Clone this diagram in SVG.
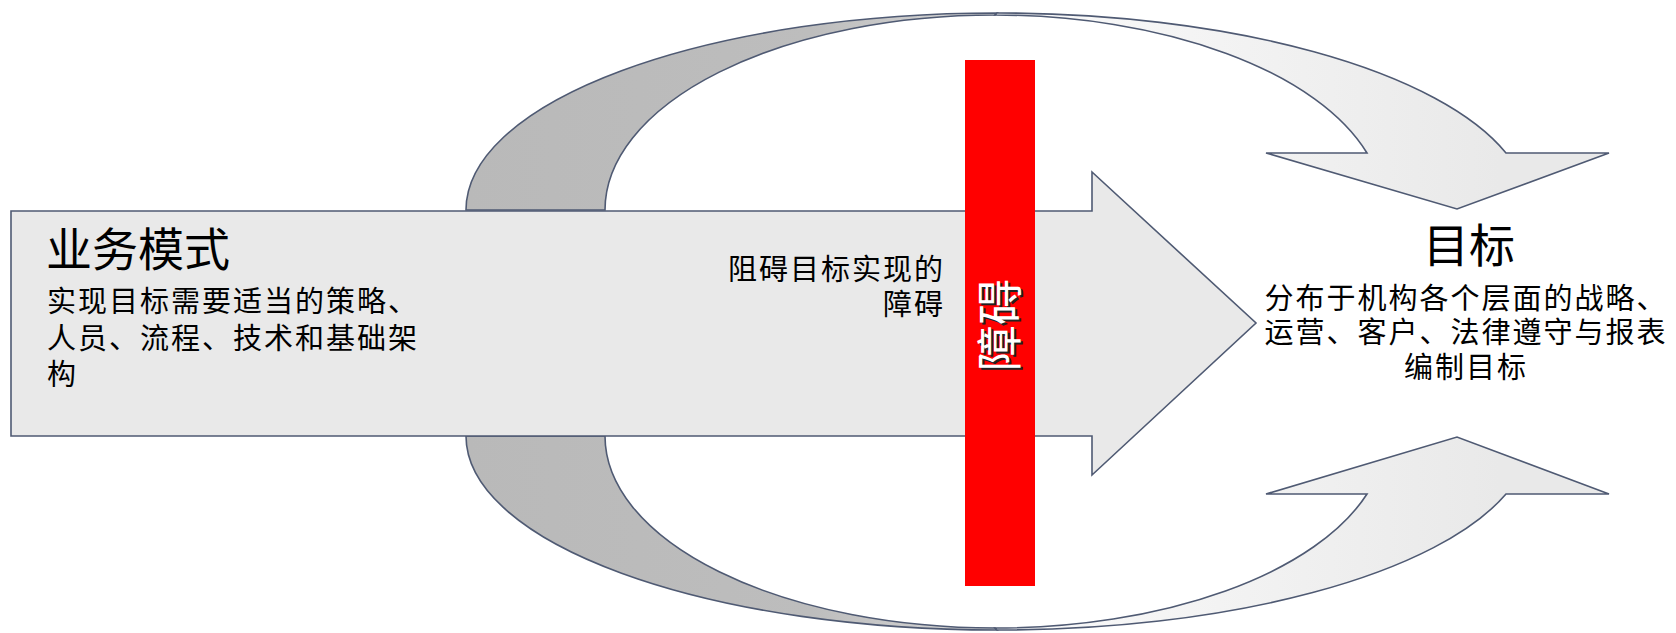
<svg xmlns="http://www.w3.org/2000/svg" width="1676" height="633" viewBox="0 0 1676 633">
<defs>
<linearGradient id="gDark" gradientUnits="userSpaceOnUse" x1="466" y1="0" x2="997" y2="0">
<stop offset="0" stop-color="#b9b9b9"/><stop offset="0.65" stop-color="#bdbdbd"/><stop offset="1" stop-color="#d8d8d8"/>
</linearGradient>
<linearGradient id="gLight" gradientUnits="userSpaceOnUse" x1="995" y1="0" x2="1500" y2="0">
<stop offset="0" stop-color="#fbfbfb"/><stop offset="1" stop-color="#e9e9e9"/>
</linearGradient>
<style>
.edge{stroke:#4f5a73;stroke-width:1.6;stroke-linejoin:miter}
.t{font-family:"Noto Sans CJK SC","Noto Sans",sans-serif;fill:#000}
.title{font-size:46px}
.body{font-size:29px;letter-spacing:2px}
.bar{font-size:46px}
</style>
</defs>
<g id="connectors">
<g id="top-arrow">
<path class="edge" fill="url(#gDark)" d="M466,210 A531,197 0 0 1 997,13 L995,15 A390,195 0 0 0 605,210 Z"/>
<path class="edge" fill="url(#gLight)" d="M997,13 A531,197 0 0 1 1506,153 L1609,153 L1457,209 L1266,153 L1367,153 A390,195 0 0 0 995,15 Z"/>
</g>
<g id="bottom-arrow">
<path class="edge" fill="url(#gDark)" d="M466,436 A531,194 0 0 0 997,630 L995,628 A390,192 0 0 1 605,436 Z"/>
<path class="edge" fill="url(#gLight)" d="M997,630 A531,194 0 0 0 1506,494 L1609,494 L1457,437 L1266,494 L1367,494 A390,192 0 0 1 995,628 Z"/>
</g>
</g>
<g id="business-model">
<path class="edge" fill="#e9e9e9" d="M11,211 H1092 V172 L1256,323 L1092,475 V436 H11 Z"/>
<text class="t title" x="46" y="266">业务模式</text>
<text class="t body"><tspan x="47" y="312">实现目标需要适当的策略、</tspan><tspan x="47" y="349">人员、流程、技术和基础架</tspan><tspan x="47" y="385">构</tspan></text>
<text class="t body" text-anchor="end"><tspan x="945" y="280">阻碍目标实现的</tspan><tspan x="945" y="315">障碍</tspan></text>
</g>
<g id="barrier">
<rect x="965" y="60" width="70" height="526" fill="#ff0000"/>
<text class="t bar" transform="translate(1002,327) rotate(-90)" x="0" y="16" text-anchor="middle" style="fill:#222">障碍</text>
<text class="t bar" transform="translate(1000,325) rotate(-90)" x="0" y="16" text-anchor="middle" style="fill:#fff">障碍</text>
</g>
<g id="goal">
<text class="t title" x="1469" y="262" text-anchor="middle">目标</text>
<text class="t body" text-anchor="middle"><tspan x="1466" y="309">分布于机构各个层面的战略、</tspan><tspan x="1466" y="343">运营、客户、法律遵守与报表</tspan><tspan x="1466" y="378">编制目标</tspan></text>
</g>
</svg>
